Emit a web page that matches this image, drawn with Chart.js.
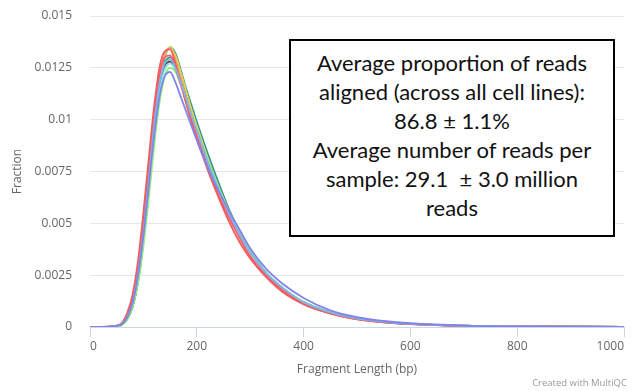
<!DOCTYPE html>
<html>
<head>
<meta charset="utf-8">
<script src="https://cdn.jsdelivr.net/npm/chart.js@4.4.1/dist/chart.umd.min.js"></script>
<style>
  html, body { margin: 0; padding: 0; background: #fff; }
  #wrap { position: relative; width: 632px; height: 391px; }
  #note {
    position: absolute; left: 289px; top: 39px; width: 322px; height: 187px;
    border: 2px solid #000; background: #fff;
    font-family: Lato, "Noto Sans", sans-serif; font-size: 22px; line-height: 29px;
    text-align: center; color: #111; padding-top: 7px; box-sizing: content-box;
  }
  #credit {
    position: absolute; right: 5px; top: 376px;
    font-family: "Open Sans", sans-serif; font-size: 9.5px; color: #999;
  }
</style>
</head>
<body>
<div id="wrap">
  <canvas id="chart" width="632" height="391"></canvas>
  <div id="note">Average proportion of reads<br>aligned (across all cell lines):<br>86.8 ± 1.1%<br>Average number of reads per<br>sample: 29.1 &nbsp;± 3.0 million<br>reads</div>
  <div id="credit">Created with MultiQC</div>
</div>
<script>
// Fragment length (bp) sample points
const fragLength = [0, 40, 50, 60, 70, 80, 90, 100, 110, 120, 130, 140, 150, 160, 170, 180, 190, 200,
  220, 240, 260, 280, 300, 330, 360, 400, 450, 500, 550, 600, 700, 800, 900, 1000];

// Fraction of reads per sample
const sampleRed = [0, 0.00003, 0.00007, 0.0002, 0.0007, 0.0016, 0.0032, 0.0055, 0.0081, 0.0106, 0.0125, 0.0133, 0.0134, 0.0127, 0.0118, 0.0108, 0.0099, 0.0091,
  0.0076, 0.0063, 0.0051, 0.0041, 0.0033, 0.0024, 0.0017, 0.0011, 0.00065, 0.00037, 0.00022, 0.00014, 0.00005, 0.00003, 0.00002, 0.00001];
const samplePink = [0, 0.00003, 0.00006, 0.00018, 0.0006, 0.0014, 0.0029, 0.0051, 0.0077, 0.0102, 0.0121, 0.0130, 0.0131, 0.0125, 0.0117, 0.0108, 0.0100, 0.0092,
  0.0078, 0.0064, 0.0053, 0.0043, 0.0034, 0.0025, 0.0018, 0.0011, 0.00066, 0.00038, 0.00023, 0.00014, 0.00005, 0.00003, 0.00002, 0.00001];
const sampleOrange = [0, 0.00002, 0.00005, 0.00016, 0.0005, 0.0013, 0.0027, 0.0048, 0.0074, 0.0100, 0.0121, 0.0132, 0.0134, 0.0129, 0.0120, 0.0111, 0.0102, 0.0094,
  0.0079, 0.0066, 0.0054, 0.0044, 0.0035, 0.0025, 0.0018, 0.0012, 0.00068, 0.00039, 0.00024, 0.00015, 0.00006, 0.00003, 0.00002, 0.00001];
const sampleYellow = [0, 0.00002, 0.00004, 0.00013, 0.00045, 0.0011, 0.0024, 0.0044, 0.0069, 0.0096, 0.0118, 0.0131, 0.0135, 0.0131, 0.0123, 0.0114, 0.0105, 0.0097,
  0.0082, 0.0068, 0.0056, 0.0045, 0.0036, 0.0026, 0.0019, 0.0012, 0.0007, 0.0004, 0.00025, 0.00015, 0.00006, 0.00003, 0.00002, 0.00001];
const sampleBlack = [0, 0.00002, 0.00005, 0.00015, 0.0005, 0.0012, 0.0025, 0.0045, 0.0070, 0.0096, 0.0116, 0.0126, 0.0128, 0.0125, 0.0119, 0.0111, 0.0103, 0.0096,
  0.0081, 0.0067, 0.0055, 0.0045, 0.0036, 0.0026, 0.0019, 0.0012, 0.0007, 0.0004, 0.00025, 0.00015, 0.00006, 0.00003, 0.00002, 0.00001];
const sampleBlue = [0, 0.00002, 0.00005, 0.00015, 0.0005, 0.0012, 0.0026, 0.0046, 0.0071, 0.0097, 0.0117, 0.0127, 0.0129, 0.0125, 0.0118, 0.0110, 0.0102, 0.0095,
  0.0080, 0.0067, 0.0055, 0.0045, 0.0036, 0.0026, 0.0019, 0.0012, 0.0007, 0.0004, 0.00025, 0.00015, 0.00006, 0.00003, 0.00002, 0.00001];
const samplePurple = [0, 0.00002, 0.00005, 0.00014, 0.00048, 0.0012, 0.0025, 0.0044, 0.0068, 0.0092, 0.0111, 0.0121, 0.0123, 0.0118, 0.0111, 0.0104, 0.0097, 0.0090,
  0.0077, 0.0066, 0.0056, 0.0047, 0.0038, 0.0028, 0.0021, 0.0014, 0.0008, 0.00047, 0.00029, 0.00018, 0.00007, 0.00003, 0.00002, 0.00001];
const sampleGreen = [0, 0.00001, 0.00003, 0.0001, 0.0004, 0.0010, 0.0021, 0.0039, 0.0062, 0.0087, 0.0108, 0.0121, 0.0125, 0.0123, 0.0117, 0.0110, 0.0102, 0.0095,
  0.0081, 0.0068, 0.0056, 0.0046, 0.0037, 0.0026, 0.0019, 0.0012, 0.0007, 0.0004, 0.00025, 0.00015, 0.00006, 0.00003, 0.00002, 0.00001];
const sampleAqua = [0, 0.00002, 0.00004, 0.00013, 0.00045, 0.0011, 0.0024, 0.0043, 0.0067, 0.0093, 0.0113, 0.0124, 0.0127, 0.0124, 0.0118, 0.0110, 0.0102, 0.0095,
  0.0081, 0.0067, 0.0055, 0.0045, 0.0036, 0.0026, 0.0019, 0.0012, 0.0007, 0.0004, 0.00025, 0.00015, 0.00006, 0.00003, 0.00002, 0.00001];
const sampleDarkGreen = [0, 0.00001, 0.00004, 0.00012, 0.0004, 0.0010, 0.0022, 0.0042, 0.0066, 0.0093, 0.0114, 0.0127, 0.0130, 0.0127, 0.0120, 0.0112, 0.0104, 0.0097,
  0.0082, 0.0068, 0.0056, 0.0045, 0.0036, 0.0026, 0.0018, 0.0012, 0.0007, 0.0004, 0.00024, 0.00015, 0.00006, 0.00003, 0.00002, 0.00001];
const sampleTeal = [0, 0.00002, 0.00004, 0.00012, 0.0004, 0.0010, 0.0022, 0.0041, 0.0065, 0.0092, 0.0115, 0.0130, 0.0135, 0.0132, 0.0124, 0.0115, 0.0107, 0.0099,
  0.0084, 0.0070, 0.0057, 0.0046, 0.0037, 0.0026, 0.0019, 0.0012, 0.0007, 0.0004, 0.00025, 0.00015, 0.00006, 0.00003, 0.00002, 0.00001];

// Axis ticks
const xTicks = [0, 200, 400, 600, 800, 1000];
const yTicks = [0, 0.0025, 0.005, 0.0075, 0.01, 0.0125, 0.015];

// Series in draw order (last on top)
const samples = [
  { name: 'S1', values: samplePurple, color: '#8085e9' },
  { name: 'S2', values: sampleBlue, color: '#7cb5ec' },
  { name: 'S3', values: sampleRed, color: '#f45b5b' },
  { name: 'S4', values: samplePink, color: '#f15c80' },
  { name: 'S5', values: sampleGreen, color: '#90ed7d' },
  { name: 'S6', values: sampleAqua, color: '#91e8e1' },
  { name: 'S7', values: sampleOrange, color: '#f7a35c' },
  { name: 'S8', values: sampleYellow, color: '#e4d354' },
  { name: 'S9', values: sampleBlack, color: '#434348' },
  { name: 'S10', values: sampleDarkGreen, color: '#2e9e5b' },
  { name: 'S11', values: sampleTeal, color: '#2b908f' }
];

const datasets = samples.map(s => ({
  label: s.name,
  data: s.values.map((v, i) => ({ x: fragLength[i], y: v })),
  borderColor: s.color,
  backgroundColor: s.color,
  borderWidth: 1.8,
  pointRadius: 0,
  cubicInterpolationMode: 'monotone',
  fill: false
}));

const tickFont = { family: "'Open Sans', sans-serif", size: 12 };

new Chart(document.getElementById('chart').getContext('2d'), {
  type: 'line',
  data: { datasets: datasets },
  options: {
    responsive: false,
    animation: false,
    layout: { padding: { left: 0, right: 8, top: 16, bottom: 0 } },
    plugins: { legend: { display: false }, tooltip: { enabled: false } },
    scales: {
      x: {
        type: 'linear',
        min: 0,
        max: 1000,
        afterBuildTicks: scale => { scale.ticks = xTicks.map(v => ({ value: v })); },
        afterFit: scale => { scale.height = 64; },
        ticks: { color: '#666', font: tickFont, padding: 2, align: 'inner', maxRotation: 0, callback: v => String(v) },
        grid: { drawOnChartArea: false, drawTicks: true, tickLength: 10, color: '#ccd6eb' },
        border: { color: '#ccd6eb', width: 1 },
        title: { display: true, text: 'Fragment Length (bp)', color: '#666', font: tickFont, padding: { top: 4, bottom: 14 } }
      },
      y: {
        min: 0,
        max: 0.015,
        afterBuildTicks: scale => { scale.ticks = yTicks.map(v => ({ value: v })); },
        afterFit: scale => { scale.width = 90; scale.paddingTop = 7; scale.paddingBottom = 0; },
        ticks: { color: '#666', font: tickFont, padding: 18, callback: v => String(v) },
        grid: { color: '#e6e6e6', drawTicks: false },
        border: { display: false },
        title: { display: true, text: 'Fraction', color: '#666', font: tickFont, padding: { top: 10, bottom: 0 } }
      }
    }
  }
});
</script>
</body>
</html>
